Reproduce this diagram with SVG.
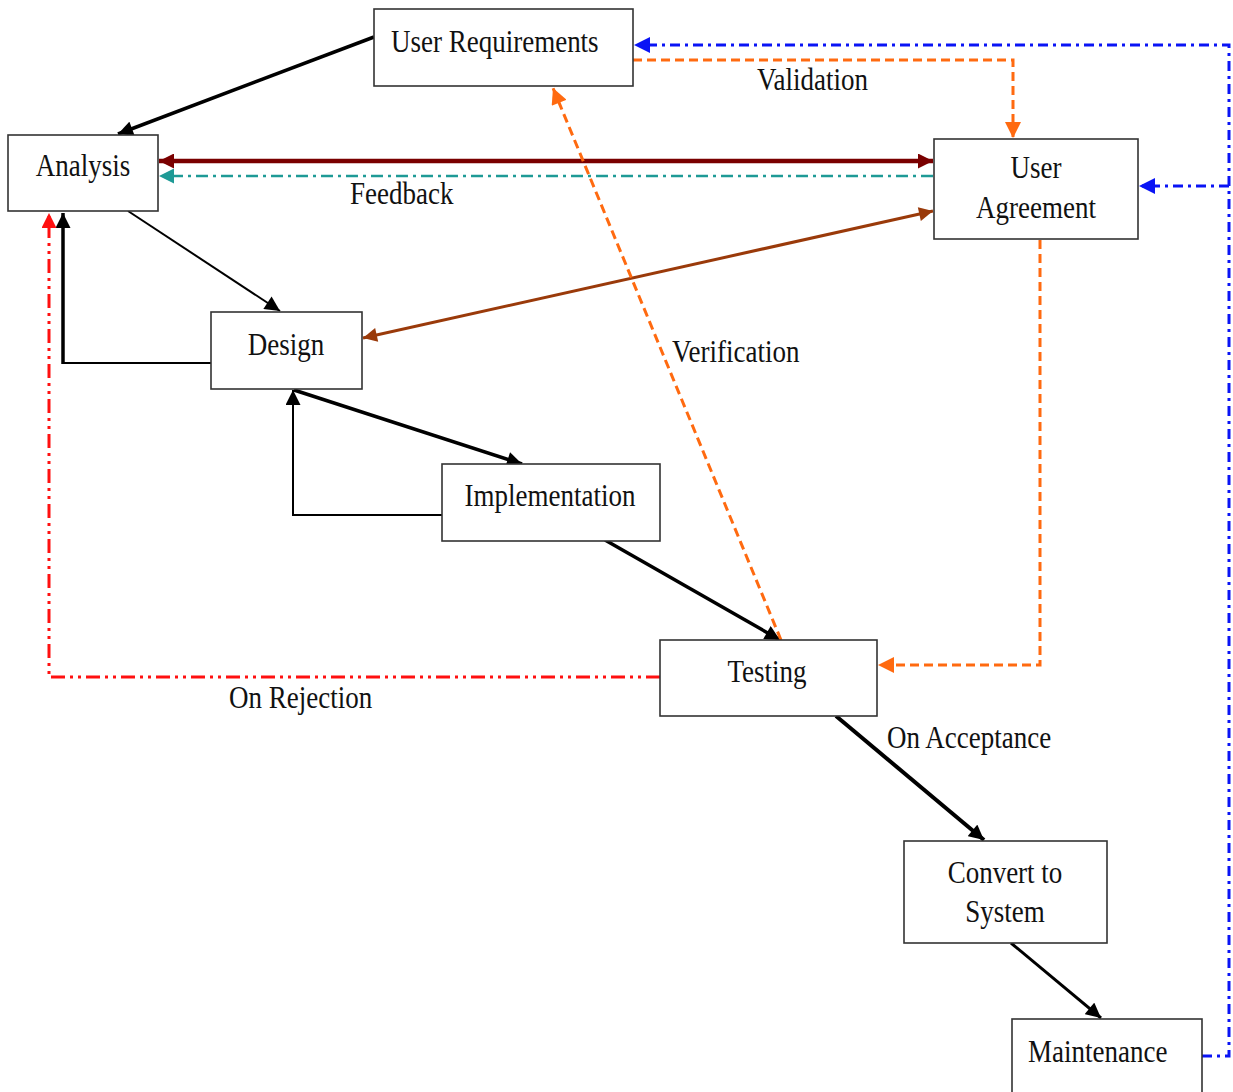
<svg xmlns="http://www.w3.org/2000/svg" width="1233" height="1092" viewBox="0 0 1233 1092">
  <style>
    .box { fill: #ffffff; stroke: #333333; stroke-width: 1.6; }
    .lbl { font-family: "Liberation Serif", "Times New Roman", serif; font-size: 27px; fill: #111111; }
    .blk { fill: none; stroke: #000000; }
    .org { fill: none; stroke: #FF6A10; stroke-width: 3; stroke-dasharray: 9 5; }
    .teal { fill: none; stroke: #1E9A96; stroke-width: 2.5; stroke-dasharray: 12 5 3 5; }
    .blue { fill: none; stroke: #0A14F5; stroke-width: 3; stroke-dasharray: 10 5 3 5; }
    .red { fill: none; stroke: #FF1010; stroke-width: 3; stroke-dasharray: 14 5 3 5 3 5; }
    .maroon { fill: none; stroke: #7A0000; stroke-width: 4.5; }
    .brown { fill: none; stroke: #9A3A0A; stroke-width: 3; }
  </style>
  <defs>
    <marker id="ahBlack" viewBox="0 0 10 10" refX="10" refY="5" markerWidth="16" markerHeight="15" markerUnits="userSpaceOnUse" orient="auto-start-reverse">
      <path d="M0,0 L10,5 L0,10 z" fill="#000000"/>
    </marker>
    <marker id="ahOrange" viewBox="0 0 10 10" refX="10" refY="5" markerWidth="17" markerHeight="16" markerUnits="userSpaceOnUse" orient="auto-start-reverse">
      <path d="M0,0 L10,5 L0,10 z" fill="#FF6A10"/>
    </marker>
    <marker id="ahTeal" viewBox="0 0 10 10" refX="10" refY="5" markerWidth="15" markerHeight="15" markerUnits="userSpaceOnUse" orient="auto-start-reverse">
      <path d="M0,0 L10,5 L0,10 z" fill="#1E9A96"/>
    </marker>
    <marker id="ahBlue" viewBox="0 0 10 10" refX="10" refY="5" markerWidth="17" markerHeight="16" markerUnits="userSpaceOnUse" orient="auto-start-reverse">
      <path d="M0,0 L10,5 L0,10 z" fill="#0A14F5"/>
    </marker>
    <marker id="ahRed" viewBox="0 0 10 10" refX="10" refY="5" markerWidth="16" markerHeight="15" markerUnits="userSpaceOnUse" orient="auto-start-reverse">
      <path d="M0,0 L10,5 L0,10 z" fill="#FF1010"/>
    </marker>
    <marker id="ahMaroon" viewBox="0 0 10 10" refX="10" refY="5" markerWidth="16" markerHeight="15" markerUnits="userSpaceOnUse" orient="auto-start-reverse">
      <path d="M0,0 L10,5 L0,10 z" fill="#7A0000"/>
    </marker>
    <marker id="ahBrown" viewBox="0 0 10 10" refX="10" refY="5" markerWidth="16" markerHeight="14" markerUnits="userSpaceOnUse" orient="auto-start-reverse">
      <path d="M0,0 L10,5 L0,10 z" fill="#9A3A0A"/>
    </marker>
  </defs>

  <rect width="1233" height="1092" fill="#ffffff"/>

  <!-- connectors -->
  <g id="connectors">
    <!-- User Requirements to Analysis -->
    <line class="blk" stroke-width="3.5" x1="374" y1="37" x2="118" y2="134" marker-end="url(#ahBlack)"/>
    <!-- Analysis <-> User Agreement -->
    <line class="maroon" x1="159" y1="161" x2="933" y2="161" marker-start="url(#ahMaroon)" marker-end="url(#ahMaroon)"/>
    <!-- Feedback -->
    <line class="teal" x1="933" y1="176" x2="159" y2="176" marker-end="url(#ahTeal)"/>
    <!-- Analysis to Design -->
    <line class="blk" stroke-width="2" x1="128" y1="211" x2="280" y2="311" marker-end="url(#ahBlack)"/>
    <!-- Design back to Analysis -->
    <polyline class="blk" stroke-width="2" points="211,363 63,363"/>
    <line class="blk" stroke-width="3.5" x1="63" y1="364" x2="63" y2="213" marker-end="url(#ahBlack)"/>
    <!-- On Rejection -->
    <polyline class="red" points="660,677 49,677 49,213" marker-end="url(#ahRed)"/>
    <!-- Design <-> User Agreement -->
    <line class="brown" x1="363" y1="338" x2="933" y2="211" marker-start="url(#ahBrown)" marker-end="url(#ahBrown)"/>
    <!-- Design to Implementation -->
    <line class="blk" stroke-width="3.5" x1="294" y1="390" x2="522" y2="464" marker-end="url(#ahBlack)"/>
    <!-- Implementation back to Design -->
    <polyline class="blk" stroke-width="2" points="442,515 293,515 293,390" marker-end="url(#ahBlack)"/>
    <!-- Implementation to Testing -->
    <line class="blk" stroke-width="3.5" x1="605" y1="540" x2="780" y2="640" marker-end="url(#ahBlack)"/>
    <!-- Verification -->
    <line class="org" x1="781" y1="640" x2="553" y2="88" marker-end="url(#ahOrange)"/>
    <!-- Validation -->
    <polyline class="org" points="633,60 1013,60 1013,138" marker-end="url(#ahOrange)"/>
    <!-- User Agreement to Testing -->
    <polyline class="org" points="1040,240 1040,665 878,665" marker-end="url(#ahOrange)"/>
    <!-- On Acceptance -->
    <line class="blk" stroke-width="4" x1="836" y1="716" x2="984" y2="840" marker-end="url(#ahBlack)"/>
    <!-- Convert to Maintenance -->
    <line class="blk" stroke-width="3" x1="1011" y1="943" x2="1101" y2="1018" marker-end="url(#ahBlack)"/>
    <!-- Maintenance feedback loop -->
    <polyline class="blue" points="1202,1056 1229,1056 1229,45 634,45" marker-end="url(#ahBlue)"/>
    <line class="blue" x1="1229" y1="186" x2="1139" y2="186" marker-end="url(#ahBlue)"/>

    <!-- connector labels -->
    <text class="lbl" transform="translate(757 90) scale(1 1.2)">Validation</text>
    <text class="lbl" transform="translate(350 204) scale(1 1.2)">Feedback</text>
    <text class="lbl" transform="translate(672 362) scale(1 1.2)">Verification</text>
    <text class="lbl" transform="translate(229 708) scale(1 1.2)">On Rejection</text>
    <text class="lbl" transform="translate(887 748) scale(1 1.2)">On Acceptance</text>
  </g>

  <!-- nodes -->
  <g id="user-requirements">
    <rect class="box" x="374" y="9" width="259" height="77"/>
    <text class="lbl" transform="translate(391 52) scale(1 1.2)">User Requirements</text>
  </g>
  <g id="analysis">
    <rect class="box" x="8" y="135" width="150" height="76"/>
    <text class="lbl" text-anchor="middle" transform="translate(83 176) scale(1 1.2)">Analysis</text>
  </g>
  <g id="user-agreement">
    <rect class="box" x="934" y="139" width="204" height="100"/>
    <text class="lbl" text-anchor="middle" transform="translate(1036 178) scale(1 1.2)">User</text>
    <text class="lbl" text-anchor="middle" transform="translate(1036 218) scale(1 1.2)">Agreement</text>
  </g>
  <g id="design">
    <rect class="box" x="211" y="312" width="151" height="77"/>
    <text class="lbl" text-anchor="middle" transform="translate(286 355) scale(1 1.2)">Design</text>
  </g>
  <g id="implementation">
    <rect class="box" x="442" y="464" width="218" height="77"/>
    <text class="lbl" text-anchor="middle" transform="translate(550 506) scale(1 1.2)">Implementation</text>
  </g>
  <g id="testing">
    <rect class="box" x="660" y="640" width="217" height="76"/>
    <text class="lbl" text-anchor="middle" transform="translate(767 682) scale(1 1.2)">Testing</text>
  </g>
  <g id="convert-to-system">
    <rect class="box" x="904" y="841" width="203" height="102"/>
    <text class="lbl" text-anchor="middle" transform="translate(1005 883) scale(1 1.2)">Convert to</text>
    <text class="lbl" text-anchor="middle" transform="translate(1005 922) scale(1 1.2)">System</text>
  </g>
  <g id="maintenance">
    <rect class="box" x="1012" y="1019" width="190" height="90"/>
    <text class="lbl" transform="translate(1028 1062) scale(1 1.2)">Maintenance</text>
  </g>
</svg>
